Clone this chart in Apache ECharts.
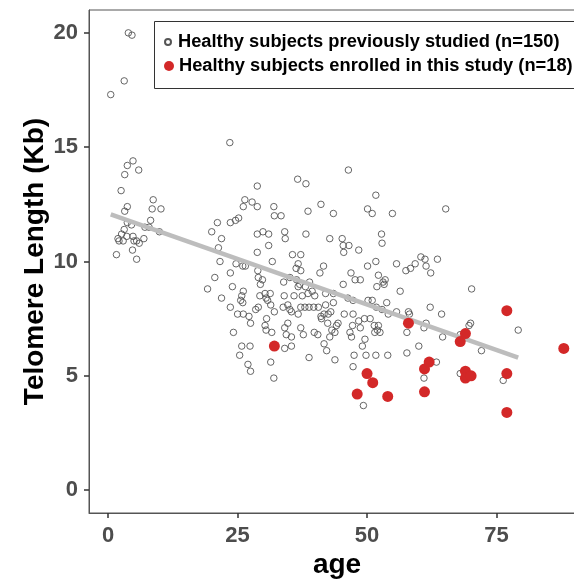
<!DOCTYPE html>
<html>
<head>
<meta charset="utf-8">
<script src="https://cdn.jsdelivr.net/npm/echarts@6/dist/echarts.min.js"></script>
<style>
html,body{margin:0;padding:0;background:#fff;}
#chart{width:574px;height:581px;}
</style>
</head>
<body>
<div id="chart"></div>
<script>
// Previously studied healthy subjects: [age, telomere length (Kb)]
const previousSubjects = [
  [0.5,17.3],[3.1,17.9],[3.9,20.0],[4.6,19.9],
  [4.8,14.4],[3.7,14.2],[3.2,13.8],[5.9,14.0],[2.5,13.1],
  [8.7,12.7],[8.5,12.3],[10.2,12.3],[3.7,12.4],[3.2,12.2],
  [3.7,11.7],[4.5,11.6],[7.1,11.5],[7.9,11.5],[8.2,11.8],[9.9,11.3],[3.1,11.4],[2.6,11.2],
  [1.9,11.0],[2.1,10.9],[2.9,10.9],[3.6,11.1],[4.8,11.1],[5.0,10.9],[5.5,10.9],[6.0,10.8],
  [6.9,11.0],[4.7,10.5],[1.6,10.3],[5.5,10.1],
  [23.5,15.2],[28.8,13.3],[26.4,12.7],[26.1,12.4],[27.8,12.6],[28.8,12.4],[32.0,12.4],[32.1,12.0],[33.4,12.0],
  [21.1,11.7],[23.6,11.7],[24.6,11.8],[25.2,11.9],[20.0,11.3],[21.9,11.0],[28.8,11.2],[29.9,11.3],[31.0,11.2],[34.1,11.3],[34.2,11.0],
  [21.3,10.6],[31.0,10.7],[21.6,10.0],[28.8,10.4],[31.7,10.0],[35.6,10.3],
  [24.7,9.9],[26.0,9.8],[26.5,9.8],[23.6,9.5],[28.9,9.6],
  [20.6,9.3],[29.0,9.3],[29.8,9.2],[29.4,9.0],[33.9,9.1],[19.2,8.8],[24.0,8.9],
  [26.1,8.7],[25.8,8.5],[21.9,8.4],[29.3,8.5],[30.3,8.6],[31.3,8.6],[30.5,8.4],[34.0,8.5],
  [25.6,8.3],[26.0,8.2],[30.8,8.3],[31.4,8.1],[23.6,8.0],[28.5,7.9],[29.0,8.0],[32.1,7.8],[33.8,8.0],[35.1,7.9],
  [25.0,7.7],[26.1,7.7],[27.2,7.6],[27.5,7.3],[30.6,7.5],[34.7,7.3],
  [30.3,7.2],[30.5,7.0],[31.6,6.9],[34.1,7.1],[34.4,6.8],[35.4,6.7],[24.2,6.9],
  [25.8,6.3],[27.4,6.3],[25.4,5.9],[34.1,6.2],[35.4,6.3],
  [27.0,5.5],[27.5,5.2],[31.4,5.6],[32.0,4.9],
  [46.4,14.0],[36.6,13.6],[38.2,13.4],[51.7,12.9],[41.1,12.5],[38.6,12.2],[43.5,12.1],[50.1,12.3],[51.0,12.1],
  [38.2,11.2],[42.8,11.0],[45.2,11.0],[52.8,11.2],[52.9,10.8],
  [45.4,10.7],[46.5,10.7],[45.5,10.4],[48.4,10.5],
  [37.2,10.3],[51.7,10.0],[50.1,9.8],
  [36.7,9.9],[36.3,9.7],[37.2,9.6],[41.6,9.8],[40.9,9.5],[46.9,9.5],[47.7,9.2],[48.7,9.2],[52.2,9.4],[53.1,9.1],[51.9,8.9],
  [35.1,9.3],[36.4,9.2],[38.9,9.1],[37.0,9.0],[38.1,8.9],[36.7,8.9],[45.4,9.0],[39.4,8.7],[42.0,8.6],[43.5,8.6],
  [35.9,8.5],[37.5,8.5],[38.6,8.6],[39.9,8.5],[46.3,8.4],[47.3,8.3],[50.2,8.3],[51.0,8.3],
  [34.7,8.1],[37.2,8.0],[38.0,8.0],[38.8,8.0],[39.7,8.0],[40.6,8.0],[42.0,8.1],[43.5,8.2],[51.8,8.0],
  [36.7,7.7],[35.4,7.8],[41.1,7.6],[41.7,7.7],[42.5,7.7],[43.0,7.8],[45.6,7.7],[47.3,7.7],
  [37.2,7.1],[41.2,7.5],[42.4,7.3],[44.4,7.3],[44.1,7.2],[47.2,7.2],[48.4,7.4],[49.5,7.5],[50.6,7.5],[51.4,7.2],[52.2,7.2],
  [37.7,6.8],[39.8,6.9],[40.5,6.8],[43.2,7.0],[43.8,6.9],[42.8,6.7],[46.7,6.9],[47.0,6.7],[48.7,7.1],[51.5,6.9],[52.0,7.0],
  [41.7,6.4],[42.2,6.1],[49.1,6.3],[49.6,6.6],
  [38.8,5.8],[43.8,5.7],[47.5,5.9],[49.8,5.9],[51.7,5.9],[47.3,5.4],
  [49.3,3.7],
  [54.9,12.1],[65.2,12.3],
  [55.7,9.9],[57.5,9.6],[58.4,9.7],[59.3,9.9],[60.4,10.2],[61.2,10.1],[61.4,9.8],[62.3,9.5],[63.6,10.1],
  [53.5,9.2],[53.3,9.0],[56.4,8.7],[70.2,8.8],
  [53.8,8.2],[52.9,7.9],[54.1,7.7],[55.7,7.8],[58.0,7.8],[58.2,7.7],[62.2,8.0],[64.4,7.7],
  [52.5,6.9],[57.7,6.9],[61.4,7.3],[61.0,7.1],[64.6,6.7],[68.0,6.8],[70.0,7.3],[69.7,7.2],
  [60.0,6.3],[54.0,5.9],[57.7,6.0],[63.4,5.6],[72.1,6.1],
  [61.0,4.9],[68.0,5.1],[79.2,7.0],[76.3,4.8]
];

// Healthy subjects enrolled in this study: [age, telomere length (Kb)]
const enrolledSubjects = [
  [32.1,6.3],[48.1,4.2],[50.0,5.1],[51.1,4.7],[54.0,4.1],[58.0,7.3],
  [61.1,5.3],[62.0,5.6],[61.1,4.3],[68.0,6.5],[69.0,6.85],[69.0,5.2],
  [69.0,4.9],[70.1,5.0],[77.0,7.85],[77.0,5.1],[77.0,3.4],[88.0,6.2]
];

// Fitted regression line endpoints
const fitAge = [0.5, 79.2];
const fitLength = [12.06, 5.80];

const xTicks = [0, 25, 50, 75];
const yTicks = [0, 5, 10, 15, 20];

const names = [
  'Healthy subjects previously studied (n=150)',
  'Healthy subjects enrolled in this study (n=18)'
];

const chart = echarts.init(document.getElementById('chart'));
const FONT = '"Liberation Sans", Arial, Helvetica, sans-serif';

chart.setOption({
  animation: false,
  backgroundColor: '#fff',
  grid: {
    left: 89, top: 10, width: 496, height: 503,
    containLabel: false,
    outerBoundsMode: 'none',
    show: true, borderColor: '#555', borderWidth: 1, backgroundColor: 'transparent'
  },
  xAxis: {
    type: 'value',
    min: -3.7, max: 92.1,
    name: 'age',
    nameLocation: 'middle',
    nameGap: 38,
    nameMoveOverlap: false,
    nameTextStyle: {fontFamily: FONT, fontWeight: 'bold', fontSize: 28, color: '#000'},
    axisLine: {show: true, onZero: false, lineStyle: {color: '#555', width: 1}},
    axisTick: {show: true, length: 5, lineStyle: {color: '#333', width: 1.5}, customValues: xTicks},
    axisLabel: {fontFamily: FONT, fontWeight: 'bold', fontSize: 22, color: '#4d4d4d', margin: 12, customValues: xTicks},
    splitLine: {show: false}
  },
  yAxis: {
    type: 'value',
    min: -1, max: 21,
    name: 'Telomere Length (Kb)',
    nameLocation: 'middle',
    nameGap: 40,
    nameRotate: 90,
    nameMoveOverlap: false,
    nameTextStyle: {fontFamily: FONT, fontWeight: 'bold', fontSize: 28, color: '#000'},
    axisLine: {show: true, onZero: false, lineStyle: {color: '#555', width: 1}},
    axisTick: {show: true, length: 5, lineStyle: {color: '#333', width: 1.5}, customValues: yTicks},
    axisLabel: {fontFamily: FONT, fontWeight: 'bold', fontSize: 22, color: '#4d4d4d', margin: 11, customValues: yTicks},
    splitLine: {show: false}
  },
  legend: [
    {
      data: [names[0]],
      orient: 'vertical', left: 164, top: 33, padding: 0,
      itemWidth: 10, itemHeight: 6,
      textStyle: {fontFamily: FONT, fontWeight: 'bold', fontSize: 18.3, color: '#000'}
    },
    {
      data: [names[1]],
      orient: 'vertical', left: 164, top: 57, padding: 0,
      itemWidth: 10, itemHeight: 10,
      textStyle: {fontFamily: FONT, fontWeight: 'bold', fontSize: 18.3, color: '#000'}
    }
  ],
  graphic: [{
    type: 'rect', left: 152, top: 19, z: 100,
    shape: {width: 480, height: 67},
    style: {fill: 'none', stroke: '#333', lineWidth: 1}
  }],
  series: [
    {
      name: names[0],
      type: 'scatter',
      symbol: 'circle',
      symbolSize: 6.5,
      itemStyle: {color: 'rgba(0,0,0,0)', borderColor: '#555', borderWidth: 0.9, opacity: 1},
      data: previousSubjects,
      z: 2
    },
    {
      name: 'fit',
      type: 'line',
      data: fitAge.map((a, i) => [a, fitLength[i]]),
      symbol: 'none',
      lineStyle: {color: '#bdbdbd', width: 4.5},
      z: 3,
      silent: true
    },
    {
      name: names[1],
      type: 'scatter',
      symbol: 'circle',
      symbolSize: 11,
      itemStyle: {color: '#d32828', opacity: 1},
      data: enrolledSubjects,
      z: 4
    }
  ]
});
</script>
</body>
</html>
